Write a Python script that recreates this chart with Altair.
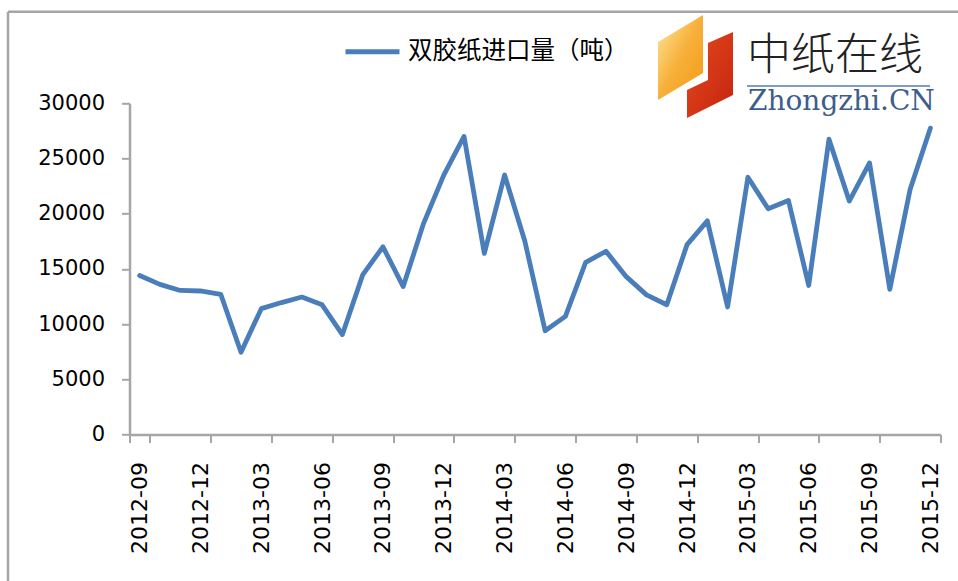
import altair as alt
import pandas as pd

# ---------------- data ----------------
months = [
    "2012-09", "2012-10", "2012-11", "2012-12",
    "2013-01", "2013-02", "2013-03", "2013-04", "2013-05", "2013-06",
    "2013-07", "2013-08", "2013-09", "2013-10", "2013-11", "2013-12",
    "2014-01", "2014-02", "2014-03", "2014-04", "2014-05", "2014-06",
    "2014-07", "2014-08", "2014-09", "2014-10", "2014-11", "2014-12",
    "2015-01", "2015-02", "2015-03", "2015-04", "2015-05", "2015-06",
    "2015-07", "2015-08", "2015-09", "2015-10", "2015-11", "2015-12",
]
import_tons = [
    14400, 13600, 13050, 13000,
    12700, 7450, 11400, 11950, 12450, 11750,
    9050, 14450, 17000, 13400, 19100, 23500,
    27000, 16400, 23500, 17500, 9400, 10700,
    15600, 16600, 14300, 12650, 11750, 17200,
    19350, 11550, 23300, 20450, 21200, 13500,
    26750, 21150, 24600, 13150, 22200, 27750,
]
tick_labels = months[::3]
y_ticks = [0, 5000, 10000, 15000, 20000, 25000, 30000]
series_name = "双胶纸进口量（吨）"
logo_cn = ["中纸在线"]
logo_en = ["Zhongzhi.CN"]

df = pd.DataFrame({"month": months, "value": import_tons, "series": series_name})

W, H = 811, 331.2
AXIS_GRAY = "#a6a6a6"
LINE_BLUE = "#4a7ebb"

# logo glyph outlines (custom symbol paths, drawn at size=4 -> 1 unit = 1 px)
ORANGE_PATH = "M-22.5,-15.5L22.5,-42.5L22.5,15.5L-22.5,42.5Z"
RED_PATH = "M-2,-32L23,-43L23,20L-23,43L-23,15L-2,5Z"

# ---------------- main line ----------------
line = alt.Chart(df).mark_line(
    strokeWidth=4.8, strokeJoin="round", strokeCap="round"
).encode(
    x=alt.X(
        "month:O",
        sort=months,
        scale=alt.Scale(type="band", paddingInner=0, paddingOuter=0),
        axis=alt.Axis(
            values=tick_labels, title=None, grid=False,
            labelAngle=270, labelAlign="right", labelBaseline="middle",
            labelFont="DejaVu Sans", labelFontSize=22, labelColor="#000000",
            labelPadding=19, labelOverlap=False,
            tickBand="extent", tickExtra=False, tickSize=8, tickWidth=2,
            tickColor=AXIS_GRAY, domainColor=AXIS_GRAY, domainWidth=2.5,
        ),
    ),
    y=alt.Y(
        "value:Q",
        scale=alt.Scale(domain=[0, 30000], nice=False),
        axis=alt.Axis(
            values=y_ticks, format="d", title=None, grid=False,
            labelFont="DejaVu Sans", labelFontSize=21, labelColor="#000000",
            labelPadding=17, tickSize=8, tickWidth=2,
            tickColor=AXIS_GRAY, domainColor=AXIS_GRAY, domainWidth=2.5,
        ),
    ),
    color=alt.Color(
        "series:N",
        scale=alt.Scale(range=[LINE_BLUE]),
        legend=alt.Legend(
            title=None, orient="none", legendX=213.5, legendY=-81,
            symbolType="stroke", symbolSize=2916, symbolStrokeWidth=5,
            labelFont="Noto Sans CJK SC", labelFontSize=24.5, labelColor="#000000",
            labelOffset=6, labelLimit=500, padding=0,
        ),
    ),
)

# ---------------- chart border (Excel chart area frame) ----------------
one = pd.DataFrame({"k": [0]})
border_left = alt.Chart(one).mark_rule(color=AXIS_GRAY, strokeWidth=2.5).encode(
    x=alt.value(-121.5), y=alt.value(-91.6), y2=alt.value(477.7)
)
border_top = alt.Chart(one).mark_rule(color=AXIS_GRAY, strokeWidth=2.5).encode(
    x=alt.value(-121.5), x2=alt.value(828.5), y=alt.value(-91.6)
)

# ---------------- logo ----------------
orange = alt.Chart(one).mark_point(
    shape=ORANGE_PATH, size=4, filled=True, opacity=1, strokeWidth=0,
    fill=alt.Gradient(
        gradient="linear",
        stops=[alt.GradientStop(color="#fdeaa0", offset=0),
               alt.GradientStop(color="#f7b03a", offset=0.5),
               alt.GradientStop(color="#f39a12", offset=1)],
        x1=0, x2=1, y1=0, y2=1,
    ),
).encode(x=alt.value(551), y=alt.value(-45.8))

red = alt.Chart(one).mark_point(
    shape=RED_PATH, size=4, filled=True, opacity=1, strokeWidth=0,
    fill=alt.Gradient(
        gradient="linear",
        stops=[alt.GradientStop(color="#e54a20", offset=0),
               alt.GradientStop(color="#c4240d", offset=1)],
        x1=0, x2=1, y1=0, y2=1,
    ),
).encode(x=alt.value(580.5), y=alt.value(-28.3))

cn_text = alt.Chart(pd.DataFrame({"t": logo_cn})).mark_text(
    align="left", baseline="middle", font="Noto Sans CJK SC", fontSize=44,
    fontWeight=300, color="#222222"
).encode(x=alt.value(617.5), y=alt.value(-46.3), text="t:N")

logo_rule = alt.Chart(one).mark_rule(color="#7f9cc6", strokeWidth=2).encode(
    x=alt.value(617.5), x2=alt.value(800.5), y=alt.value(-17.3)
)

en_text = alt.Chart(pd.DataFrame({"t": logo_en})).mark_text(
    align="left", baseline="alphabetic", font="DejaVu Serif", fontSize=28,
    color="#3d5d8c"
).encode(x=alt.value(618.5), y=alt.value(6.7), text="t:N")

chart = alt.layer(
    border_left, border_top, orange, red, cn_text, logo_rule, en_text, line
).resolve_scale(
    x="independent", y="independent"
).properties(
    width=W, height=H,
    autosize=alt.AutoSizeParams(type="none"),
    padding={"left": 129.5, "top": 103.3, "right": 17.5, "bottom": 146.5},
    background="white",
).configure_view(stroke=None)

chart.save("out.html", embed_options={"renderer": "svg", "actions": False})
